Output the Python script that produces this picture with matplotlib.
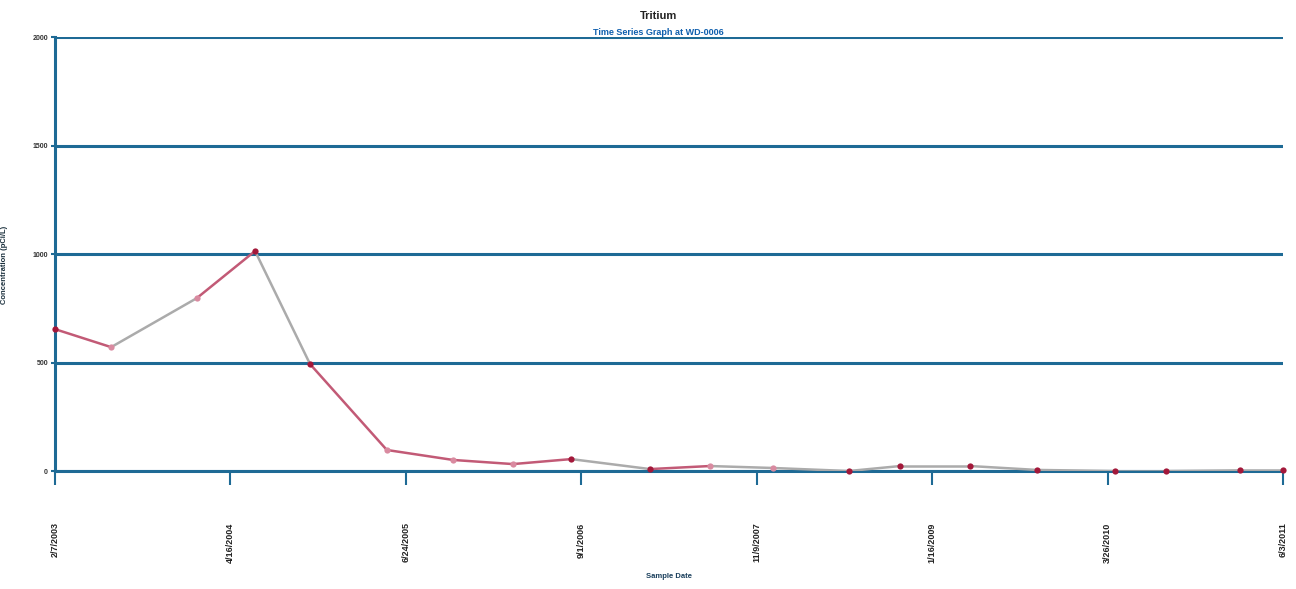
#!/usr/bin/env python3
# -*- coding:utf-8 -*-

import datetime as dt
import matplotlib
matplotlib.use('Agg')
import matplotlib.pyplot as plt

## Data
sample_dates = ["2003-02-07", "2003-06-26", "2004-01-24", "2004-06-16", "2004-10-30",
                "2005-05-08", "2005-10-19", "2006-03-16", "2006-08-07", "2007-02-18",
                "2007-07-16", "2007-12-19", "2008-06-24", "2008-10-29", "2009-04-20",
                "2009-10-02", "2010-04-13", "2010-08-18", "2011-02-17", "2011-06-03"]
tritium = [654, 571, 797, 1014, 493, 97, 51, 32, 55, 9,
           23, 14, 0, 23, 23, 5, 0, 0, 3, 3]
# detected (True) vs. estimated/flagged points
detected = [True, False, False, True, True, False, False, False, True, True,
            False, False, True, True, True, True, True, True, True, True]

tick_start = "2003-02-07"
tick_step_days = 434
n_ticks = 8
y_ticks = [0, 500, 1000, 1500, 2000]

RED = '#c25a76'
DARK_RED = '#a3183a'
PINK = '#d98aa0'
GRAY = '#ababab'
BLUE = '#1e6a95'
FONT = 'Liberation Sans'

## colour of each connecting segment as seen on the scan
seg_colors = [RED, GRAY, RED, GRAY, RED, RED, RED, RED, GRAY, RED,
              GRAY, GRAY, GRAY, GRAY, GRAY, GRAY, GRAY, GRAY, GRAY]

x = [dt.datetime.strptime(d, "%Y-%m-%d") for d in sample_dates]
t0 = dt.datetime.strptime(tick_start, "%Y-%m-%d")
x_ticks = [t0 + dt.timedelta(days=tick_step_days * k) for k in range(n_ticks)]

fig = plt.figure(figsize=(12.96, 5.89), dpi=100)
ax = fig.add_axes([0.0424, 0.2003, 0.9476, 0.7367])

for i, col in enumerate(seg_colors):
    ax.plot(x[i:i+2], tritium[i:i+2], color=col, lw=1.8, solid_capstyle='round', zorder=3)

for xi, yi, det in zip(x, tritium, detected):
    ax.plot(xi, yi, 'o', ms=4.5, color=DARK_RED if det else PINK, mec='none', zorder=4,
            clip_on=False)

ax.set_xlim(x_ticks[0], x_ticks[-1])
ax.set_ylim(0, 2000)
ax.set_yticks(y_ticks)
ax.set_yticklabels([str(v) for v in y_ticks], fontsize=5, fontweight='bold', family=FONT,
                   color='#333333')
ax.set_xticks(x_ticks)
ax.set_xticklabels([f"{d.month}/{d.day}/{d.year}" for d in x_ticks], rotation=90,
                   fontsize=6.5, fontweight='bold', family=FONT, color='#222222')
ax.tick_params(axis='x', direction='out', length=10, width=1.5, color=BLUE, pad=27)
ax.tick_params(axis='y', direction='out', length=3, width=1.5, color=BLUE, pad=2)

ax.yaxis.grid(True, color=BLUE, lw=2.2)
ax.set_axisbelow(True)
for side in ('top', 'right'):
    ax.spines[side].set_visible(False)
for side in ('left', 'bottom'):
    ax.spines[side].set_color(BLUE)
    ax.spines[side].set_linewidth(2.2)

ax.set_ylabel('Concentration (pCi/L)', fontsize=5.5, fontweight='bold', family=FONT,
              color='#1a2f3c')
ax.yaxis.set_label_coords(-0.038, 0.475)
ax.set_xlabel('Sample Date', fontsize=5.5, fontweight='bold', family=FONT,
              color='#1a3f5c', labelpad=7)

fig.text(0.508, 0.972, 'Tritium', ha='center', va='center', fontsize=8, fontweight='bold',
         family=FONT, color='#222222')
fig.text(0.508, 0.945, 'Time Series Graph at WD-0006', ha='center', va='center',
         fontsize=6.5, fontweight='bold', family=FONT, color='#0f5fae')

fig.savefig('out.png', dpi=100)
